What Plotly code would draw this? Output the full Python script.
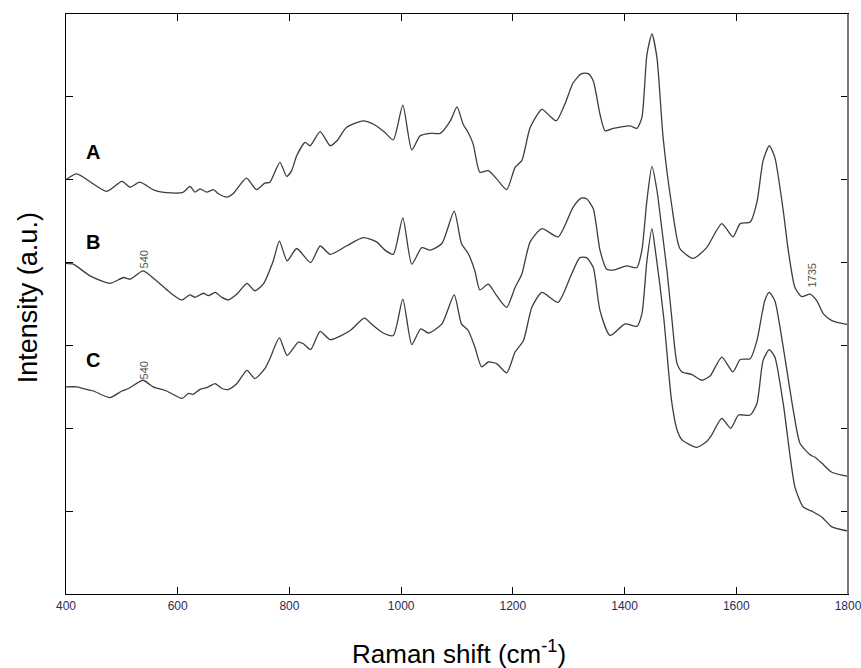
import plotly.graph_objects as go

# Raman spectra of three samples, vertically offset (arbitrary units)
wavenumber_a = [400, 419, 473, 500, 515, 532, 559, 589, 610, 622, 631, 640, 652, 664, 673, 688, 699,
                723, 741, 756, 765, 783, 795, 804, 813, 828, 837, 855, 873, 885, 902, 932, 953, 971,
                986, 1003, 1019, 1034, 1052, 1070, 1088, 1100, 1111, 1120, 1129, 1141, 1156, 1171,
                1189, 1204, 1216, 1231, 1252, 1266, 1278, 1293, 1308, 1323, 1335, 1344, 1356, 1365,
                1380, 1410, 1422, 1431, 1440, 1449, 1458, 1469, 1484, 1499, 1523, 1547, 1574, 1594,
                1607, 1625, 1637, 1648, 1659, 1669, 1684, 1693, 1705, 1717, 1732, 1744, 1756, 1771,
                1800]
intensity_a = [5.00, 5.07, 4.86, 4.98, 4.91, 4.97, 4.87, 4.84, 4.85, 4.92, 4.85, 4.89, 4.85, 4.88, 4.83,
               4.79, 4.83, 5.02, 4.88, 4.96, 4.97, 5.21, 5.04, 5.11, 5.29, 5.45, 5.41, 5.58, 5.41, 5.47,
               5.63, 5.71, 5.66, 5.57, 5.48, 5.90, 5.36, 5.53, 5.56, 5.56, 5.71, 5.88, 5.67, 5.57, 5.43,
               5.09, 5.11, 5.01, 4.88, 5.15, 5.23, 5.63, 5.85, 5.77, 5.71, 5.91, 6.17, 6.28, 6.28, 6.19,
               5.79, 5.59, 5.62, 5.65, 5.62, 5.75, 6.51, 6.76, 6.47, 5.51, 4.71, 4.17, 4.05, 4.18, 4.47,
               4.31, 4.47, 4.49, 4.73, 5.23, 5.41, 5.27, 4.63, 4.15, 3.70, 3.59, 3.62, 3.54, 3.38, 3.30,
               3.25]

wavenumber_b = [400, 413, 443, 479, 503, 515, 538, 562, 586, 607, 622, 631, 646, 655, 667, 679, 691,
                706, 724, 738, 753, 771, 782, 796, 813, 838, 855, 873, 902, 932, 956, 971, 986, 1003,
                1019, 1037, 1052, 1073, 1095, 1108, 1120, 1132, 1141, 1156, 1171, 1189, 1204, 1216,
                1231, 1252, 1281, 1308, 1323, 1332, 1344, 1356, 1368, 1380, 1404, 1422, 1431, 1440,
                1449, 1458, 1467, 1476, 1485, 1494, 1503, 1520, 1538, 1553, 1574, 1594, 1607, 1625,
                1637, 1651, 1659, 1669, 1684, 1702, 1714, 1732, 1741, 1753, 1771, 1800]
intensity_b = [3.99, 3.98, 3.84, 3.75, 3.82, 3.80, 3.90, 3.78, 3.64, 3.55, 3.61, 3.58, 3.63, 3.60, 3.64,
               3.58, 3.55, 3.62, 3.75, 3.66, 3.74, 4.02, 4.26, 4.02, 4.17, 4.00, 4.20, 4.10, 4.20, 4.30,
               4.25, 4.15, 4.10, 4.54, 3.98, 4.18, 4.15, 4.23, 4.62, 4.23, 4.11, 3.90, 3.67, 3.74, 3.60,
               3.46, 3.70, 3.86, 4.25, 4.41, 4.31, 4.67, 4.78, 4.77, 4.65, 4.15, 3.92, 3.91, 3.96, 3.94,
               4.15, 4.75, 5.16, 4.87, 4.39, 3.90, 3.30, 2.78, 2.68, 2.65, 2.58, 2.63, 2.86, 2.68, 2.83,
               2.84, 3.06, 3.54, 3.64, 3.54, 2.98, 2.22, 1.82, 1.68, 1.65, 1.58, 1.47, 1.42]

wavenumber_c = [400, 419, 431, 449, 479, 500, 512, 538, 556, 580, 608, 619, 628, 640, 652, 667, 679,
                691, 706, 724, 738, 756, 765, 782, 796, 816, 825, 838, 855, 873, 909, 934, 950, 968,
                986, 1003, 1019, 1035, 1049, 1073, 1095, 1108, 1120, 1132, 1144, 1156, 1171, 1189,
                1204, 1219, 1234, 1252, 1281, 1305, 1320, 1332, 1344, 1356, 1374, 1401, 1422, 1431,
                1440, 1449, 1455, 1470, 1484, 1494, 1503, 1529, 1547, 1556, 1574, 1590, 1604, 1625,
                1637, 1648, 1659, 1669, 1684, 1705, 1720, 1738, 1753, 1771, 1800]
intensity_c = [2.50, 2.50, 2.48, 2.45, 2.37, 2.45, 2.48, 2.58, 2.50, 2.45, 2.36, 2.42, 2.41, 2.47, 2.49,
               2.54, 2.48, 2.47, 2.54, 2.70, 2.60, 2.72, 2.84, 3.09, 2.88, 3.04, 3.02, 2.95, 3.17, 3.07,
               3.18, 3.33, 3.24, 3.15, 3.12, 3.56, 3.01, 3.20, 3.15, 3.26, 3.61, 3.26, 3.18, 2.98, 2.74,
               2.80, 2.78, 2.67, 2.92, 3.06, 3.46, 3.64, 3.52, 3.86, 4.06, 4.06, 3.94, 3.42, 3.12, 3.26,
               3.23, 3.38, 4.02, 4.41, 4.15, 3.34, 2.34, 1.98, 1.86, 1.77, 1.84, 1.92, 2.12, 2.00, 2.16,
               2.16, 2.30, 2.82, 2.95, 2.86, 2.30, 1.29, 1.05, 0.99, 0.93, 0.81, 0.76]

sample_labels = ["A", "B", "C"]
label_positions = [(448, 5.34), (448, 4.25), (448, 2.83)]

# band assignments written beside the spectra: (wavenumber, height, text)
band_marks = [(540, 4.04, "540"), (540, 2.70, "540"), (1735, 3.84, "1735")]

x_ticks = [400, 600, 800, 1000, 1200, 1400, 1600, 1800]
y_ticks = [0, 1, 2, 3, 4, 5, 6, 7]

line_style = dict(color="#3d3d3d", width=1.3, shape="spline", smoothing=0.6)

fig = go.Figure()
for wn, inten in [(wavenumber_a, intensity_a), (wavenumber_b, intensity_b), (wavenumber_c, intensity_c)]:
    fig.add_trace(go.Scatter(x=wn, y=inten, mode="lines", line=line_style,
                             hoverinfo="skip", showlegend=False))

for name, (lx, ly) in zip(sample_labels, label_positions):
    fig.add_annotation(x=lx, y=ly, text=f"<b>{name}</b>", showarrow=False,
                       font=dict(family="Liberation Sans, Arial", size=20, color="black"),
                       xanchor="center", yanchor="middle")

for bx, by, txt in band_marks:
    fig.add_annotation(x=bx, y=by, text=txt, showarrow=False, textangle=-90,
                       font=dict(family="Liberation Sans, Arial", size=11, color="#5b5446"),
                       xanchor="center", yanchor="middle")

# axis titles
fig.add_annotation(x=0.503, y=0, xref="paper", yref="paper", yshift=-40,
                   text="Raman shift (cm<sup>-1</sup>)", showarrow=False,
                   font=dict(family="Liberation Sans, Arial", size=26, color="black"),
                   xanchor="center", yanchor="top")
fig.add_annotation(x=0, y=0.51, xref="paper", yref="paper", xshift=-38,
                   text="Intensity (a.u.)", showarrow=False, textangle=-90,
                   font=dict(family="Liberation Sans, Arial", size=27, color="black"),
                   xanchor="center", yanchor="middle")

axis_common = dict(showgrid=False, zeroline=False, showline=True, linecolor="black", linewidth=1.3,
                   mirror="ticks", ticks="inside", ticklen=7, tickwidth=1, tickcolor="black",
                   automargin=False)

fig.update_xaxes(range=[400, 1800], tickvals=x_ticks, ticktext=[str(v) for v in x_ticks],
                 ticklabeloverflow="allow",
                 tickfont=dict(family="Liberation Sans, Arial", size=12, color="#2b2b55"),
                 **axis_common)
fig.update_yaxes(range=[0, 7], tickvals=y_ticks, showticklabels=False, **axis_common)

# right-hand frame edge is drawn a little heavier and greyer
fig.add_shape(type="line", xref="paper", yref="paper", x0=1, x1=1, y0=0, y1=1,
              line=dict(color="#7a7a7a", width=2))

fig.update_layout(width=861, height=668, margin=dict(l=66, r=13, t=14, b=74),
                  plot_bgcolor="white", paper_bgcolor="white")

fig.write_html("out.html")
